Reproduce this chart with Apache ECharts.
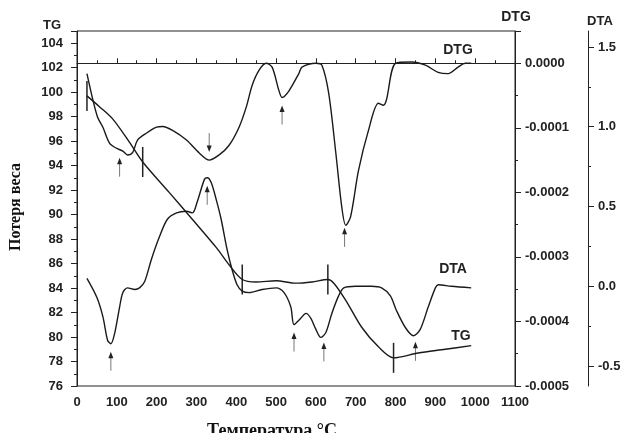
<!DOCTYPE html>
<html>
<head>
<meta charset="utf-8">
<script src="https://cdn.jsdelivr.net/npm/echarts@6/dist/echarts.min.js"></script>
<style>
  html, body { margin: 0; padding: 0; background: #fff; }
  #chart { width: 625px; height: 433px; }
</style>
</head>
<body>
<div id="chart"></div>
<script>
// ---- Data ----
// TG (weight, %)
const tgT = [25, 57, 90, 132, 165, 232, 290, 350, 382, 415, 450, 500, 550, 590, 630, 645, 675, 715, 757, 795, 857, 925, 990];
const tgV = [99.7, 98.8, 97.8, 95.9, 94.3, 91.8, 89.6, 87.3, 85.9, 84.7, 84.5, 84.6, 84.4, 84.5, 84.7, 84.4, 83.0, 80.8, 79.2, 78.3, 78.7, 79.0, 79.3];

// DTG
const dtgT = [25, 40, 52, 65, 82, 100, 115, 127, 140, 152, 175, 200, 215, 240, 275, 307, 332, 357, 382, 407, 425, 440, 457, 475, 490, 507, 515, 532, 557, 565, 600, 615, 632, 650, 665, 675, 687, 707, 732, 757, 770, 777, 800, 840, 875, 907, 932, 957, 975, 990];
const dtgV = [-0.16e-4, -0.57e-4, -0.84e-4, -0.99e-4, -1.24e-4, -1.32e-4, -1.36e-4, -1.42e-4, -1.38e-4, -1.19e-4, -1.08e-4, -0.99e-4, -0.98e-4, -1.04e-4, -1.19e-4, -1.39e-4, -1.50e-4, -1.42e-4, -1.27e-4, -0.99e-4, -0.68e-4, -0.34e-4, -0.11e-4, 0.0, -0.06e-4, -0.42e-4, -0.53e-4, -0.43e-4, -0.16e-4, -0.06e-4, 0.0, -0.03e-4, -0.46e-4, -1.39e-4, -2.23e-4, -2.51e-4, -2.38e-4, -1.66e-4, -1.04e-4, -0.62e-4, -0.65e-4, -0.57e-4, 0.0, 0.02e-4, -0.03e-4, -0.14e-4, -0.16e-4, -0.06e-4, 0.0, 0.0];

// DTA
const dtaT = [25, 50, 65, 77, 85, 95, 107, 115, 127, 145, 157, 170, 187, 207, 227, 250, 275, 290, 302, 320, 327, 337, 350, 362, 377, 390, 402, 415, 432, 465, 500, 520, 537, 545, 562, 575, 587, 600, 612, 625, 640, 657, 670, 700, 740, 765, 787, 802, 825, 845, 862, 882, 900, 907, 940, 990];
const dtaV = [0.05, -0.07, -0.19, -0.34, -0.36, -0.29, -0.13, -0.04, -0.01, -0.02, -0.01, 0.03, 0.17, 0.31, 0.42, 0.46, 0.47, 0.46, 0.53, 0.67, 0.68, 0.65, 0.54, 0.42, 0.23, 0.10, 0.01, -0.03, -0.04, -0.02, -0.01, -0.04, -0.13, -0.24, -0.20, -0.17, -0.20, -0.27, -0.32, -0.29, -0.17, -0.06, -0.01, 0.0, 0.0, -0.01, -0.06, -0.15, -0.26, -0.31, -0.27, -0.13, -0.01, 0.01, 0.0, -0.01];

// annotations
const tgMarkerT = [25, 165, 415, 630, 795];
const dtgArrowT = [107, 332, 515, 672];
const dtgArrowDir = [1, -1, 1, 1];     // 1: below curve pointing up, -1: above pointing down
const dtaArrowT = [85, 327, 545, 620, 850];
const dtaArrowDir = [1, 1, 1, 1, 1];

// axis ticks
const dtaMajorTicks = [-0.5, 0, 0.5, 1.0, 1.5];
const dtaMinorTicks = [-0.25, 0.25, 0.75, 1.25];

// ---- helpers ----
function zip(a, b) { return a.map((t, i) => [t, b[i]]); }
function interp(ts, vs, t) {
  if (t <= ts[0]) return vs[0];
  for (let i = 1; i < ts.length; i++) {
    if (t <= ts[i]) {
      const f = (t - ts[i - 1]) / (ts[i] - ts[i - 1]);
      return vs[i - 1] + f * (vs[i] - vs[i - 1]);
    }
  }
  return vs[vs.length - 1];
}
function arrowRender(params, api) {
  const p = api.coord([api.value(0), api.value(1)]);
  const dir = api.value(2);
  const x = p[0];
  const tip = p[1] + dir * 8;
  const tail = tip + dir * 19;
  return {
    type: 'group',
    children: [
      { type: 'line', shape: { x1: x, y1: tip + dir * 5, x2: x, y2: tail }, style: { stroke: '#777', lineWidth: 1 } },
      { type: 'polygon', shape: { points: [[x, tip], [x - 2.5, tip + dir * 6.5], [x + 2.5, tip + dir * 6.5]] }, style: { fill: '#222' } }
    ]
  };
}
function markerRender(params, api) {
  const p = api.coord([api.value(0), api.value(1)]);
  return { type: 'line', shape: { x1: p[0], y1: p[1] - 15, x2: p[0], y2: p[1] + 15 }, style: { stroke: '#222', lineWidth: 1.5 } };
}

const AX = '#222';
const labelFont = { color: AX, fontSize: 13, fontFamily: 'Liberation Sans', fontWeight: 'bold' };
const lineStyle = { color: '#1a1a1a', width: 1.4 };

const chart = echarts.init(document.getElementById('chart'), null, { renderer: 'canvas' });
chart.setOption({
  animation: false,
  backgroundColor: '#fff',
  grid: { left: 77, right: 110, top: 31, bottom: 47, show: true, borderColor: AX, borderWidth: 1 },
  xAxis: {
    type: 'value', min: 0, max: 1100, interval: 100,
    axisLine: { lineStyle: { color: AX, width: 1 } },
    axisTick: { inside: true, length: 5, lineStyle: { color: AX } },
    minorTick: { show: true, splitNumber: 2, length: 3, lineStyle: { color: AX } },
    splitLine: { show: false },
    axisLabel: Object.assign({ margin: 10, formatter: v => String(Math.round(v)) }, labelFont)
  },
  yAxis: [
    {
      type: 'value', position: 'left', min: 76, max: 105, interval: 2,
      axisLine: { show: true, lineStyle: { color: AX, width: 1 } },
      axisTick: { show: true, length: 6, lineStyle: { color: AX } },
      minorTick: { show: true, splitNumber: 2, length: 3, lineStyle: { color: AX } },
      splitLine: { show: false },
      axisLabel: Object.assign({ margin: 14, showMaxLabel: false, formatter: v => String(Math.round(v)) }, labelFont)
    },
    {
      type: 'value', position: 'right', min: -0.0005, max: 0.00005, interval: 0.0001,
      axisLine: { show: true, lineStyle: { color: AX, width: 1 } },
      axisTick: { show: true, length: 6, lineStyle: { color: AX } },
      minorTick: { show: true, splitNumber: 2, length: 3, lineStyle: { color: AX } },
      splitLine: { show: false },
      axisLabel: Object.assign({
        margin: 10, showMaxLabel: false,
        formatter: v => (Math.abs(v) < 1e-10 ? 0 : v).toFixed(4)
      }, labelFont)
    },
    {
      type: 'value', position: 'right', offset: 73, min: -0.625, max: 1.6,
      axisLine: { show: true, lineStyle: { color: AX, width: 1 } },
      axisTick: { show: true, length: 6, customValues: dtaMajorTicks, lineStyle: { color: AX } },
      splitLine: { show: false },
      axisLabel: Object.assign({
        margin: 10, customValues: dtaMajorTicks,
        formatter: v => v.toFixed(1)
      }, labelFont)
    },
    {
      type: 'value', position: 'right', offset: 73, min: -0.625, max: 1.6,
      axisLine: { show: false },
      axisTick: { show: true, length: 3, customValues: dtaMinorTicks, lineStyle: { color: AX } },
      splitLine: { show: false },
      axisLabel: { show: false, customValues: dtaMinorTicks }
    }
  ],
  series: [
    { name: 'TG', type: 'line', yAxisIndex: 0, data: zip(tgT, tgV), showSymbol: false, symbol: 'none', smooth: 0.3, lineStyle: lineStyle, silent: true },
    { name: 'DTG', type: 'line', yAxisIndex: 1, data: zip(dtgT, dtgV), showSymbol: false, symbol: 'none', smooth: 0.3, lineStyle: lineStyle, silent: true },
    { name: 'DTA', type: 'line', yAxisIndex: 2, data: zip(dtaT, dtaV), showSymbol: false, symbol: 'none', smooth: 0.3, lineStyle: lineStyle, silent: true },
    { type: 'custom', yAxisIndex: 0, silent: true, renderItem: markerRender,
      data: tgMarkerT.map(t => [t, interp(tgT, tgV, t)]) },
    { type: 'custom', yAxisIndex: 1, silent: true, renderItem: arrowRender,
      data: dtgArrowT.map((t, i) => [t, interp(dtgT, dtgV, t), dtgArrowDir[i]]) },
    { type: 'custom', yAxisIndex: 2, silent: true, renderItem: arrowRender,
      data: dtaArrowT.map((t, i) => [t, interp(dtaT, dtaV, t), dtaArrowDir[i]]) }
  ],
  graphic: [
    { type: 'text', x: 52, y: 25, style: { text: 'TG', textAlign: 'center', textVerticalAlign: 'middle', font: 'bold 13px "Liberation Sans"', fill: AX } },
    { type: 'text', x: 516, y: 17, style: { text: 'DTG', textAlign: 'center', textVerticalAlign: 'middle', font: 'bold 14px "Liberation Sans"', fill: AX } },
    { type: 'text', x: 600, y: 21, style: { text: 'DTA', textAlign: 'center', textVerticalAlign: 'middle', font: 'bold 13px "Liberation Sans"', fill: AX } },
    { type: 'text', x: 458, y: 50, style: { text: 'DTG', textAlign: 'center', textVerticalAlign: 'middle', font: 'bold 14px "Liberation Sans"', fill: AX } },
    { type: 'text', x: 453, y: 269, style: { text: 'DTA', textAlign: 'center', textVerticalAlign: 'middle', font: 'bold 14px "Liberation Sans"', fill: AX } },
    { type: 'text', x: 461, y: 336, style: { text: 'TG', textAlign: 'center', textVerticalAlign: 'middle', font: 'bold 14px "Liberation Sans"', fill: AX } },
    { type: 'text', x: 16, y: 207, rotation: Math.PI / 2, style: { text: 'Потеря веса', textAlign: 'center', textVerticalAlign: 'middle', font: 'bold 16px "Liberation Serif"', fill: '#111' } },
    { type: 'text', x: 272, y: 440, style: { text: 'Температура °C', textAlign: 'center', textVerticalAlign: 'bottom', font: 'bold 18px "Liberation Serif"', fill: '#111' } }
  ]
});
</script>
</body>
</html>
